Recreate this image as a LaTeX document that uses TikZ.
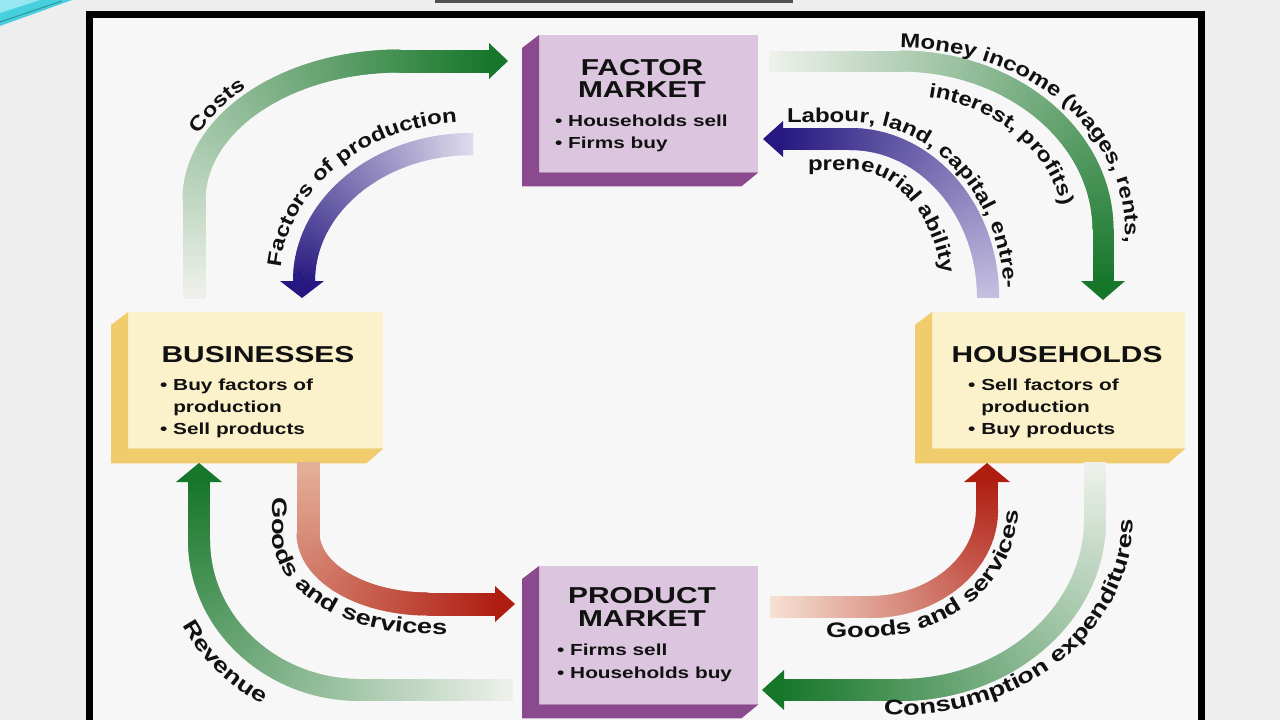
\documentclass[tikz,border=0pt]{standalone}
\usepackage{fontspec}
\setmainfont{Liberation Sans}[FakeStretch=1.3]
\newfontfamily\lblfam{Liberation Sans}[FakeStretch=1.2]
\newfontfamily\lblfamw{Liberation Sans}[FakeStretch=1.3]
\usetikzlibrary{calc,decorations.markings,decorations.text}

\definecolor{gDark}{RGB}{22,118,42}
\definecolor{gLight}{RGB}{238,241,235}
\definecolor{pDark}{RGB}{38,24,128}
\definecolor{pLight}{RGB}{222,218,236}
\definecolor{pMid}{RGB}{196,190,224}
\definecolor{rDark}{RGB}{176,30,18}
\definecolor{rLight}{RGB}{246,224,210}
\definecolor{rMid}{RGB}{228,176,154}
\definecolor{mFront}{RGB}{220,198,223}
\definecolor{mSide}{RGB}{140,74,142}
\definecolor{yFront}{RGB}{251,241,203}
\definecolor{ySide}{RGB}{240,204,108}
\definecolor{pageBg}{RGB}{238,238,238}
\definecolor{panelBg}{RGB}{247,247,247}
\definecolor{ink}{RGB}{17,17,17}
\definecolor{decoA}{RGB}{70,208,222}
\definecolor{decoB}{RGB}{150,232,240}
\definecolor{barGray}{RGB}{80,80,80}

\newcommand\hdfont{\fontsize{23}{23}\selectfont\bfseries}
\newcommand\btfont{\fontsize{16}{22}\selectfont\bfseries}
\newcommand\lbfont{\lblfam\fontsize{20}{20}\selectfont\bfseries}
\newcommand\lbfontw{\lblfamw\fontsize{21}{21}\selectfont\bfseries}

% arrow heads: colour, base point, half width, length
\newcommand\headRight[4]{\fill[#1] ($(#2)+(-1,-#3)$) -- ($(#2)+(#4,0)$) -- ($(#2)+(-1,#3)$) -- cycle;}
\newcommand\headLeft[4]{\fill[#1] ($(#2)+(1,-#3)$) -- ($(#2)+(-#4,0)$) -- ($(#2)+(1,#3)$) -- cycle;}
\newcommand\headDown[4]{\fill[#1] ($(#2)+(-#3,-1)$) -- ($(#2)+(0,#4)$) -- ($(#2)+(#3,-1)$) -- cycle;}
\newcommand\headUp[4]{\fill[#1] ($(#2)+(-#3,1)$) -- ($(#2)+(0,-#4)$) -- ($(#2)+(#3,1)$) -- cycle;}

\tikzset{
  flow/.style n args={3}{% light, dark, half width
    decorate, decoration={markings,
      mark=between positions 0 and 1 step 1.2pt with {%
        \pgfmathtruncatemacro\flowpct{min(100,max(0,(\pgfkeysvalueof{/pgf/decoration/mark info/distance from start})/(\pgfdecoratedpathlength)*100))}%
        \fill[#2!\flowpct!#1] (-1pt,-#3) rectangle (1pt,#3);}}},
  lbl/.style={decorate, decoration={text along path, text={|\lbfont|#1}, text color=ink}},
  lblw/.style={decorate, decoration={text along path, text={|\lbfontw|#1}, text color=ink}},
  mbox/.style={fill=mFront, anchor=north west, inner sep=0pt},
  ybox/.style={fill=yFront, anchor=north west, inner sep=0pt},
  hd/.style={font=\hdfont, text=ink, inner sep=0pt, anchor=base},
  bt/.style={font=\btfont, text=ink, inner sep=0pt, anchor=base west},
}

\begin{document}
\begin{tikzpicture}[x=1pt,y=-1pt]
\useasboundingbox (0,0) rectangle (1280,720);
\fill[pageBg] (0,0) rectangle (1280,720);
% slide decorations
\fill[decoA] (0,0) -- (72,0) -- (0,26) -- cycle;
\fill[decoB] (0,0) -- (40,0) -- (0,13) -- cycle;
\draw[decoA!70!black, line width=1pt] (0,22) -- (62,1);
\fill[barGray] (435,-2) rectangle (793,2.5);
% frame
\draw[line width=7pt, fill=panelBg] (89.5,14.5) rectangle (1201.5,740);

% ---------- boxes ----------
\node[mbox, minimum width=219pt, minimum height=137pt] (fm) at (539,35) {};
\fill[mSide] (fm.north west) -- ++(-17,13) -- ($(fm.south west)+(-17,14)$) -- ($(fm.south east)+(-17,14)$) -- (fm.south east) -- (fm.south west) -- cycle;
\node[mbox, minimum width=219pt, minimum height=138pt] (pm) at (539,566) {};
\fill[mSide] (pm.north west) -- ++(-17,13) -- ($(pm.south west)+(-17,14)$) -- ($(pm.south east)+(-17,14)$) -- (pm.south east) -- (pm.south west) -- cycle;
\node[ybox, minimum width=255pt, minimum height=136pt] (bus) at (128,312) {};
\fill[ySide] (bus.north west) -- ++(-17,13) -- ($(bus.south west)+(-17,15)$) -- ($(bus.south east)+(-17,15)$) -- (bus.south east) -- (bus.south west) -- cycle;
\node[ybox, minimum width=253pt, minimum height=136pt] (hh) at (932,312) {};
\fill[ySide] (hh.north west) -- ++(-17,13) -- ($(hh.south west)+(-17,15)$) -- ($(hh.south east)+(-17,15)$) -- (hh.south east) -- (hh.south west) -- cycle;

% ---------- arrow end points ----------
\coordinate (costsT) at (194,298);  \coordinate (costsH) at (490,61);
\coordinate (facT)   at (472,144);  \coordinate (facH)   at (302,282);
\coordinate (monT)   at (770,61);   \coordinate (monH)   at (1103,282);
\coordinate (labT)   at (988,297);  \coordinate (labH)   at (782,139);
\coordinate (glT)    at (308,463);  \coordinate (glH)    at (496,604);
\coordinate (revT)   at (512,690);  \coordinate (revH)   at (199,481);
\coordinate (grT)    at (771,607);  \coordinate (grH)    at (987,481);
\coordinate (conT)   at (1095,463); \coordinate (conH)   at (783,690);

% ---------- arrows ----------
\path[flow={gLight}{gDark}{11.5pt}] (costsT) -- (194,200) arc[start angle=180, end angle=270, x radius=206, y radius=139] -- (costsH);
\headRight{gDark}{costsH}{18}{18}
\path[flow={pLight}{pDark}{11pt}] (facT) arc[start angle=270, end angle=180, x radius=168, y radius=137] -- (facH);
\headDown{pDark}{facH}{22}{16}
\path[flow={gLight}{gDark}{10.5pt}] (monT) -- (900,61) arc[start angle=270, end angle=360, x radius=203, y radius=169] -- (monH);
\headDown{gDark}{monH}{22}{18}
\path[flow={pMid}{pDark}{11pt}] (labT) arc[start angle=0, end angle=-90, x radius=138, y radius=158] -- (labH);
\headLeft{pDark}{labH}{18}{19}
\path[flow={rMid}{rDark}{11.5pt}] (glT) -- (308,533) arc[start angle=180, end angle=90, x radius=120, y radius=71] -- (glH);
\headRight{rDark}{glH}{18}{19}
\path[flow={gLight}{gDark}{11pt}] (revT) -- (360,690) arc[start angle=90, end angle=180, x radius=161, y radius=150] -- (revH);
\headUp{gDark}{revH}{23}{18}
\path[flow={rLight}{rDark}{11pt}] (grT) -- (870,607) arc[start angle=90, end angle=0, x radius=117, y radius=97] -- (grH);
\headUp{rDark}{grH}{23}{18}
\path[flow={gLight}{gDark}{11pt}] (conT) -- (1095,520) arc[start angle=0, end angle=90, x radius=195, y radius=170] -- (conH);
\headLeft{gDark}{conH}{20}{21}

% ---------- arrow labels ----------
\path[lbl={Costs}] ($(400,200)+(205:222 and 155)$) arc[start angle=205, end angle=268, x radius=222, y radius=155];
\path[lbl={Factors of production}] ($(470,281)+(185:190 and 159)$) arc[start angle=185, end angle=285, x radius=190, y radius=159];
\path[lbl={Money income (wages, rents,}] ($(900,230)+(270:225 and 182)$) arc[start angle=270, end angle=360, x radius=225, y radius=182] -- ++(0,60);
\path[lbl={interest, profits)}] ($(900,230)+(280:164 and 135)$) arc[start angle=280, end angle=360, x radius=164, y radius=135] -- ++(0,40);
\path[lbl={Labour, land, capital, entre-}] (787,122) -- (850,122) arc[start angle=270, end angle=360, x radius=154, y radius=175] -- ++(0,40);
\path[lbl={preneurial ability}] (808,170) -- (850,170) arc[start angle=270, end angle=360, x radius=93, y radius=127] -- ++(0,40);
\path[lblw={Goods and services}] (272,497) -- (272,533) arc[start angle=180, end angle=90, x radius=156, y radius=101] -- ++(80,0);
\path[lblw={Revenue}] ($(360,540)+(153:199 and 188)$) arc[start angle=153, end angle=95, x radius=199, y radius=188];
\path[lblw={Goods and services}] (826,637) -- (870,637) arc[start angle=90, end angle=0, x radius=148, y radius=127] -- ++(0,-60);
\path[lblw={Consumption expenditures}] ($(900,520)+(94:233 and 195)$) arc[start angle=94, end angle=0, x radius=233, y radius=195] -- ++(0,-80);

% ---------- box texts ----------
\node[hd] (fmH1) at (642,75) {FACTOR};
\node[hd] (fmH2) at (642,97) {MARKET};
\node[bt] (fmB1) at (555,126) {\textbullet\ Households sell};
\node[bt] (fmB2) at (555,148) {\textbullet\ Firms buy};

\node[hd] (pmH1) at (642,603) {PRODUCT};
\node[hd] (pmH2) at (642,626) {MARKET};
\node[bt] (pmB1) at (557,655) {\textbullet\ Firms sell};
\node[bt] (pmB2) at (557,678) {\textbullet\ Households buy};

\node[hd] (busH) at (258,362) {BUSINESSES};
\node[bt] (busB1) at (160,390) {\textbullet\ Buy factors of};
\node[bt] (busB2) at (160,412) {\hphantom{\textbullet\ }production};
\node[bt] (busB3) at (160,434) {\textbullet\ Sell products};

\node[hd] (hhH) at (1057,362) {HOUSEHOLDS};
\node[bt] (hhB1) at (968,390) {\textbullet\ Sell factors of};
\node[bt] (hhB2) at (968,412) {\hphantom{\textbullet\ }production};
\node[bt] (hhB3) at (968,434) {\textbullet\ Buy products};
\end{tikzpicture}
\end{document}
